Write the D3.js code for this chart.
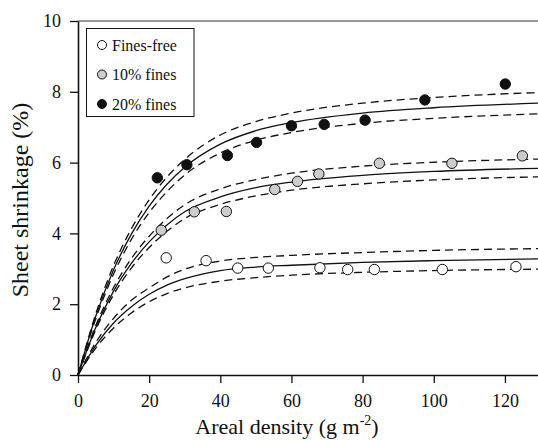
<!DOCTYPE html>
<html><head><meta charset="utf-8">
<script src="https://cdn.jsdelivr.net/npm/d3@7"></script>
<style>body{margin:0;background:#fff}</style>
</head><body>
<svg id="chart" width="538" height="440"></svg>
<script>
// ---- observed points ----
const freeX   = [24.8, 36.0, 44.9, 53.5, 68.0, 75.8, 83.3, 102.4, 123.1];
const freeY   = [3.31, 3.23, 3.02, 3.02, 3.03, 2.98, 2.98, 2.98, 3.06];
const fines10X = [23.4, 32.7, 41.7, 55.3, 61.7, 67.7, 84.7, 105.1, 124.9];
const fines10Y = [4.09, 4.61, 4.62, 5.24, 5.47, 5.68, 5.98, 5.98, 6.19];
const fines20X = [22.3, 30.6, 42.0, 50.2, 60.0, 69.2, 80.7, 97.5, 120.1];
const fines20Y = [5.57, 5.94, 6.20, 6.57, 7.04, 7.08, 7.20, 7.77, 8.22];

// ---- fitted curves and confidence bands ----
const fitX        = [0, 5, 10, 15, 20, 25, 30, 40, 50, 60, 80, 100, 130];
const fit20       = [0, 1.66, 2.97, 3.98, 4.77, 5.39, 5.87, 6.52, 6.90, 7.13, 7.40, 7.55, 7.68];
const fit20Upper  = [0, 1.73, 3.09, 4.13, 4.95, 5.59, 6.09, 6.78, 7.16, 7.40, 7.68, 7.84, 7.98];
const fit20Lower  = [0, 1.59, 2.85, 3.83, 4.59, 5.18, 5.65, 6.27, 6.63, 6.85, 7.11, 7.25, 7.38];
const fit10       = [0, 1.34, 2.37, 3.15, 3.76, 4.24, 4.61, 5.03, 5.29, 5.45, 5.64, 5.75, 5.84];
const fit10Upper  = [0, 1.40, 2.47, 3.29, 3.92, 4.42, 4.81, 5.26, 5.52, 5.70, 5.90, 6.01, 6.10];
const fit10Lower  = [0, 1.28, 2.27, 3.02, 3.60, 4.06, 4.42, 4.82, 5.06, 5.22, 5.40, 5.51, 5.60];
const fitFree     = [0, 0.84, 1.47, 1.93, 2.28, 2.54, 2.72, 2.95, 3.05, 3.10, 3.18, 3.23, 3.28];
const fitFreeUpper= [0, 0.92, 1.60, 2.11, 2.46, 2.77, 2.99, 3.22, 3.32, 3.38, 3.46, 3.52, 3.57];
const fitFreeLower= [0, 0.76, 1.33, 1.75, 2.07, 2.30, 2.46, 2.65, 2.75, 2.82, 2.90, 2.95, 2.99];

// ---- ticks & labels ----
const xTicks = [0, 20, 40, 60, 80, 100, 120];
const yTicks = [0, 2, 4, 6, 8, 10];
const legendLabels = ["Fines-free", "10% fines", "20% fines"];
const seriesFill = ["#ffffff", "#cccccc", "#111111"];

const FONT = "'Liberation Serif','Times New Roman',serif";
const svg = d3.select("#chart");
const x = d3.scaleLinear().domain([0, 130]).range([78, 540.5]);
const y = d3.scaleLinear().domain([0, 10]).range([375, 21]);

// frame (top + right)
svg.append("path")
  .attr("d", `M${x(0)},${y(10)}H${x(130)}V${y(0)}`)
  .attr("fill", "none").attr("stroke", "#333").attr("stroke-width", 1);

// axes
const gx = svg.append("g").attr("transform", `translate(0,${y(0)})`)
  .call(d3.axisBottom(x).tickValues(xTicks).tickSize(8).tickPadding(11).tickSizeOuter(0));
const gy = svg.append("g").attr("transform", `translate(${x(0)},0)`)
  .call(d3.axisLeft(y).tickValues(yTicks).tickSize(8).tickPadding(9).tickSizeOuter(0));
[gx, gy].forEach(g => {
  g.select(".domain").attr("stroke", "#111").attr("stroke-width", 1.6);
  g.selectAll(".tick line").attr("stroke", "#111").attr("stroke-width", 1.3);
  g.selectAll(".tick text").attr("font-family", FONT).attr("font-size", 18).attr("fill", "#111");
});

// curves
const line = d3.line().x(d => x(d[0])).y(d => y(d[1])).curve(d3.curveMonotoneX);
const curves = [
  [fitFree, false], [fitFreeUpper, true], [fitFreeLower, true],
  [fit10, false], [fit10Upper, true], [fit10Lower, true],
  [fit20, false], [fit20Upper, true], [fit20Lower, true]
];
curves.forEach(([vals, dashed]) => {
  svg.append("path")
    .attr("d", line(fitX.map((xv, i) => [xv, vals[i]])))
    .attr("fill", "none").attr("stroke", "#111")
    .attr("stroke-width", 1.3)
    .attr("stroke-dasharray", dashed ? "8,5" : null);
});

// points
const series = [[freeX, freeY], [fines10X, fines10Y], [fines20X, fines20Y]];
series.forEach(([xs, ys], s) => {
  svg.append("g").selectAll("circle").data(xs.map((xv, i) => [xv, ys[i]]))
    .join("circle")
    .attr("cx", d => x(d[0])).attr("cy", d => y(d[1])).attr("r", 5.2)
    .attr("fill", seriesFill[s]).attr("stroke", "#111").attr("stroke-width", 1);
});

// legend
svg.append("rect").attr("x", 86.5).attr("y", 28.5).attr("width", 107.5).attr("height", 88)
  .attr("fill", "#fff").attr("stroke", "#111").attr("stroke-width", 1);
legendLabels.forEach((lab, i) => {
  const cy = 45 + i * 29.5;
  svg.append("circle").attr("cx", 102).attr("cy", cy).attr("r", 4.5)
    .attr("fill", seriesFill[i]).attr("stroke", "#111").attr("stroke-width", 1);
  svg.append("text").attr("x", 112).attr("y", cy + 5.5)
    .attr("font-family", FONT).attr("font-size", 16).attr("fill", "#111").text(lab);
});

// axis titles
svg.append("text").attr("transform", "translate(28,200) rotate(-90)")
  .attr("text-anchor", "middle").attr("font-family", FONT).attr("font-size", 24).attr("fill", "#111")
  .text("Sheet shrinkage (%)");
const xt = svg.append("text").attr("x", 287).attr("y", 434)
  .attr("text-anchor", "middle").attr("font-family", FONT).attr("font-size", 22).attr("fill", "#111");
xt.append("tspan").text("Areal density (g m");
xt.append("tspan").attr("font-size", 14).attr("dy", -9).text("-2");
xt.append("tspan").attr("dy", 9).text(")");
</script>
</body></html>
